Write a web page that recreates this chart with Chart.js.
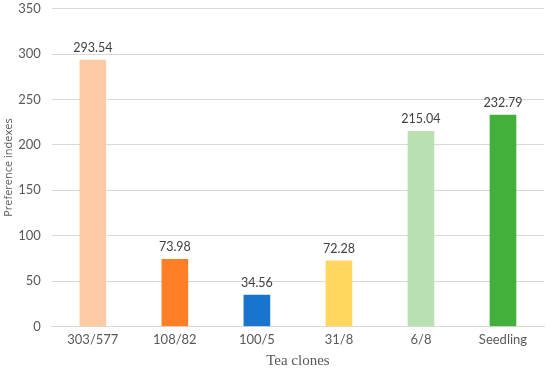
<!DOCTYPE html>
<html>
<head>
<meta charset="utf-8">
<script src="https://cdn.jsdelivr.net/npm/chart.js@4"></script>
<style>
  body { margin: 0; background: #fff; }
  #wrap { width: 550px; height: 369px; }
</style>
</head>
<body>
<div id="wrap"><canvas id="chart"></canvas></div>
<script>
// Data
const clones = ['303/577', '108/82', '100/5', '31/8', '6/8', 'Seedling'];
const indexes = [293.54, 73.98, 34.56, 72.28, 215.04, 232.79];
const barColors = ['#FFCBA4', '#FF7F27', '#1874CD', '#FFD75E', '#B9E0B1', '#44B03C'];

// Values above each bar
const valueLabels = {
  id: 'valueLabels',
  afterDatasetsDraw(chart) {
    const ctx = chart.ctx;
    const meta = chart.getDatasetMeta(0);
    ctx.save();
    ctx.font = '12.5px Lato';
    ctx.fillStyle = '#404040';
    ctx.textAlign = 'center';
    ctx.textBaseline = 'bottom';
    meta.data.forEach((bar, i) => {
      ctx.fillText(indexes[i].toFixed(2), bar.x, bar.y - 6);
    });
    ctx.restore();
  }
};

const ctx = document.getElementById('chart').getContext('2d');
const chart = new Chart(ctx, {
  type: 'bar',
  data: {
    labels: clones,
    datasets: [{
      data: indexes,
      backgroundColor: barColors,
      barThickness: 26
    }]
  },
  options: {
    responsive: true,
    maintainAspectRatio: false,
    animation: false,
    layout: { padding: { top: 0, right: 6, left: 0, bottom: 0 } },
    plugins: {
      legend: { display: false },
      tooltip: { enabled: false }
    },
    scales: {
      y: {
        min: 0,
        max: 350,
        ticks: { stepSize: 50, color: '#595959', font: { family: 'Lato', size: 13 }, padding: 1 },
        grid: { color: '#D9D9D9', drawTicks: true, tickLength: 10, tickColor: 'rgba(0,0,0,0)' },
        border: { display: false },
        title: { display: true, text: 'Preference indexes', color: '#595959', font: { family: 'Open Sans', size: 11 }, padding: 2 }
      },
      x: {
        ticks: { color: '#595959', font: { family: 'Lato', size: 13 }, padding: 6 },
        grid: { display: false, drawTicks: false },
        border: { color: '#D9D9D9' },
        title: { display: true, text: 'Tea clones', color: '#595959', font: { family: 'Liberation Serif', size: 15, lineHeight: 1 }, padding: { top: 0, bottom: 0 } }
      }
    }
  },
  plugins: [valueLabels]
});
</script>
</body>
</html>
